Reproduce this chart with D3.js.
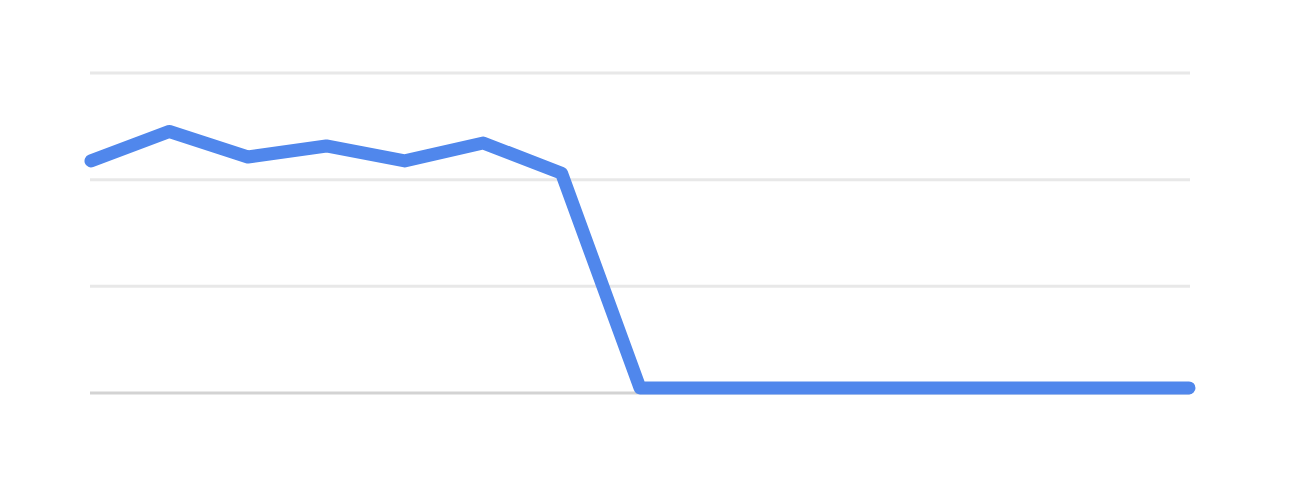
<!DOCTYPE html>
<html>
<head>
<meta charset="utf-8">
<script src="https://cdn.jsdelivr.net/npm/d3@7"></script>
<style>
  html, body { margin: 0; padding: 0; background: #fff; }
  svg { display: block; }
</style>
</head>
<body>
<svg id="chart" width="1299" height="481"></svg>
<script>
const periods = ["P1","P2","P3","P4","P5","P6","P7","P8","P9","P10","P11","P12","P13","P14","P15"];
const values = [54.4, 61.3, 55.3, 57.9, 54.4, 58.6, 51.5, 1.2, 1.2, 1.2, 1.2, 1.2, 1.2, 1.2, 1.2];
const gridTicks = [0, 25, 50, 75];

const svg = d3.select("#chart");
const x = d3.scalePoint().domain(periods).range([91, 1189]);
const y = d3.scaleLinear().domain([0, 75]).range([393, 73]);

svg.append("g").selectAll("line")
  .data(gridTicks)
  .join("line")
  .attr("x1", 90).attr("x2", 1190)
  .attr("y1", d => y(d)).attr("y2", d => y(d))
  .attr("stroke", d => d === 0 ? "#d3d3d3" : "#e8e8e8")
  .attr("stroke-width", 3);

const line = d3.line()
  .x((d, i) => x(periods[i]))
  .y(d => y(d));

svg.append("path")
  .datum(values)
  .attr("d", line)
  .attr("fill", "none")
  .attr("stroke", "#5087ec")
  .attr("stroke-width", 13)
  .attr("stroke-linejoin", "round")
  .attr("stroke-linecap", "round");
</script>
</body>
</html>
